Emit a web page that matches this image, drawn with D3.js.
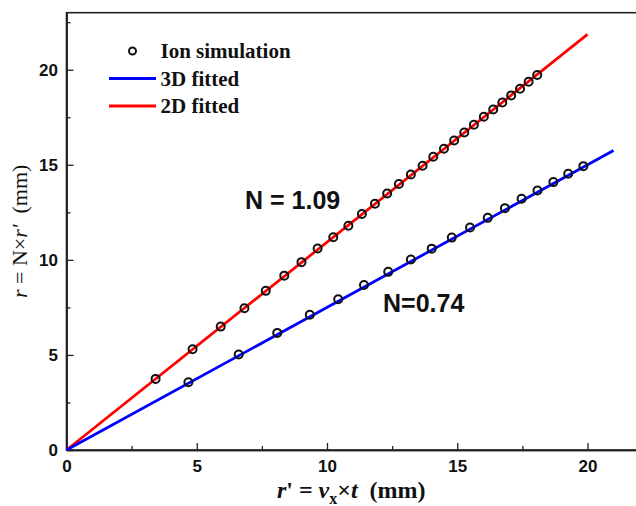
<!DOCTYPE html>
<html>
<head>
<meta charset="utf-8">
<script src="https://cdn.jsdelivr.net/npm/d3@7"></script>
<style>
  body { margin: 0; background: #fff; }
  svg { display: block; }
  .tick text { font-family: Arial, "Liberation Sans", sans-serif; font-weight: bold; font-size: 17px; fill: #111; }
</style>
</head>
<body>
<svg id="main" width="636" height="506"></svg>
<script>
// ion simulation points (x = r', y = r)
const sim2dX = [3.42, 4.84, 5.92, 6.83, 7.65, 8.36, 9.02, 9.64, 10.24, 10.82, 11.34, 11.84, 12.31, 12.76,
  13.22, 13.67, 14.08, 14.49, 14.88, 15.27, 15.64, 16.02, 16.38, 16.73, 17.07, 17.41, 17.74, 18.07];
const sim2dY = [3.74, 5.30, 6.49, 7.46, 8.37, 9.17, 9.88, 10.60, 11.19, 11.79, 12.41, 12.95, 13.49, 13.99,
  14.49, 14.95, 15.42, 15.84, 16.28, 16.70, 17.11, 17.53, 17.91, 18.28, 18.65, 19.00, 19.37, 19.72];
const sim3dX = [4.68, 6.61, 8.09, 9.34, 10.43, 11.42, 12.35, 13.22, 14.02, 14.79, 15.49, 16.17, 16.83,
  17.47, 18.08, 18.69, 19.26, 19.84];
const sim3dY = [3.56, 5.02, 6.16, 7.11, 7.93, 8.68, 9.37, 10.02, 10.59, 11.17, 11.70, 12.21, 12.72,
  13.21, 13.65, 14.09, 14.53, 14.93];

// fitted lines (start and end points)
const fit2d = [[0, 0], [20, 21.86]];
const fit3d = [[0, 0], [21, 15.75]];

const xMajor = [0, 5, 10, 15, 20];
const xMinor = [2.5, 7.5, 12.5, 17.5];
const yMajor = [0, 5, 10, 15, 20];
const yMinor = [2.5, 7.5, 12.5, 17.5, 22.5];

const legendItems = [
  { label: "Ion simulation", type: "circle" },
  { label: "3D fitted", type: "line", color: "#0000ff" },
  { label: "2D fitted", type: "line", color: "#ff0000" }
];

const svg = d3.select("#main");
const plotL = 66.5, plotT = 12.7, plotB = 450, plotR = 639.6;

const x = d3.scaleLinear().domain([0, 22]).range([plotL, plotR]);
const y = d3.scaleLinear().domain([0, 23]).range([plotB, plotT]);

// frame
svg.append("rect")
  .attr("x", plotL).attr("y", plotT)
  .attr("width", plotR - plotL).attr("height", plotB - plotT)
  .attr("fill", "none").attr("stroke", "#222").attr("stroke-width", 1.6);

// axes, ticks point inward
svg.append("g").attr("transform", `translate(0,${plotB})`)
  .call(d3.axisBottom(x).tickValues(xMajor).tickSize(-7).tickSizeOuter(0).tickPadding(10));
svg.append("g").attr("transform", `translate(0,${plotB})`)
  .call(d3.axisBottom(x).tickValues(xMinor).tickSize(-4).tickSizeOuter(0).tickFormat(""));
svg.append("g").attr("transform", `translate(${plotL},0)`)
  .call(d3.axisLeft(y).tickValues(yMajor).tickSize(-7).tickSizeOuter(0).tickPadding(8.5));
svg.append("g").attr("transform", `translate(${plotL},0)`)
  .call(d3.axisLeft(y).tickValues(yMinor).tickSize(-4).tickSizeOuter(0).tickFormat(""));

svg.selectAll(".domain").attr("stroke", "#222").attr("stroke-width", 1.6);
svg.selectAll(".tick line").attr("stroke", "#222").attr("stroke-width", 1.3);

// fitted lines
const line = d3.line().x(d => x(d[0])).y(d => y(d[1]));
svg.append("path").datum(fit2d).attr("d", line)
  .attr("fill", "none").attr("stroke", "#ff0000").attr("stroke-width", 2.8);
svg.append("path").datum(fit3d).attr("d", line)
  .attr("fill", "none").attr("stroke", "#0000ff").attr("stroke-width", 2.8);

// simulation points
const pts = sim2dX.map((v, i) => [v, sim2dY[i]]).concat(sim3dX.map((v, i) => [v, sim3dY[i]]));
svg.append("g").selectAll("circle")
  .data(pts)
  .enter()
  .append("circle")
  .attr("cx", d => x(d[0]))
  .attr("cy", d => y(d[1]))
  .attr("r", 4)
  .attr("fill", "none")
  .attr("stroke", "#111")
  .attr("stroke-width", 2);

// legend
const legend = svg.append("g");
legendItems.forEach((d, i) => {
  const cy = 51 + i * 27.5;
  if (d.type === "circle") {
    legend.append("circle").attr("cx", 132.5).attr("cy", cy).attr("r", 3.5)
      .attr("fill", "none").attr("stroke", "#111").attr("stroke-width", 2);
  } else {
    legend.append("line").attr("x1", 109).attr("x2", 156).attr("y1", cy).attr("y2", cy)
      .attr("stroke", d.color).attr("stroke-width", 2.8);
  }
  legend.append("text").attr("x", 160.5).attr("y", cy + 7)
    .attr("font-family", "'Liberation Serif', 'Times New Roman', serif")
    .attr("font-weight", "bold").attr("font-size", 21).attr("fill", "#111")
    .text(d.label);
});

// annotations
svg.append("text").attr("x", 245).attr("y", 209)
  .attr("font-family", "Arial, 'Liberation Sans', sans-serif").attr("font-weight", "bold")
  .attr("font-size", 25).attr("fill", "#111").text("N = 1.09");
svg.append("text").attr("x", 383).attr("y", 312)
  .attr("font-family", "Arial, 'Liberation Sans', sans-serif").attr("font-weight", "bold")
  .attr("font-size", 25).attr("fill", "#111").text("N=0.74");

// axis titles
const serif = "'Liberation Serif', 'Times New Roman', serif";
const xt = svg.append("text").attr("x", (plotL + 636) / 2).attr("y", 498)
  .attr("text-anchor", "middle").attr("font-family", serif).attr("font-size", 24)
  .attr("font-weight", "bold").attr("fill", "#111");
xt.append("tspan").attr("font-style", "italic").text("r");
xt.append("tspan").text("' = ");
xt.append("tspan").attr("font-style", "italic").text("v");
xt.append("tspan").attr("font-size", 16).attr("dy", 6).text("x");
xt.append("tspan").attr("dy", -6).text("×");
xt.append("tspan").attr("font-style", "italic").text("t");
xt.append("tspan").text("\u00a0 (mm)");

const yt = svg.append("text").attr("transform", `translate(27,${(plotT + plotB) / 2}) rotate(-90)`)
  .attr("text-anchor", "middle").attr("font-family", serif).attr("font-size", 22)
  .attr("fill", "#111");
yt.append("tspan").attr("font-style", "italic").text("r");
yt.append("tspan").text(" = N×");
yt.append("tspan").attr("font-style", "italic").text("r'");
yt.append("tspan").text("\u00a0 (mm)");
</script>
</body>
</html>
